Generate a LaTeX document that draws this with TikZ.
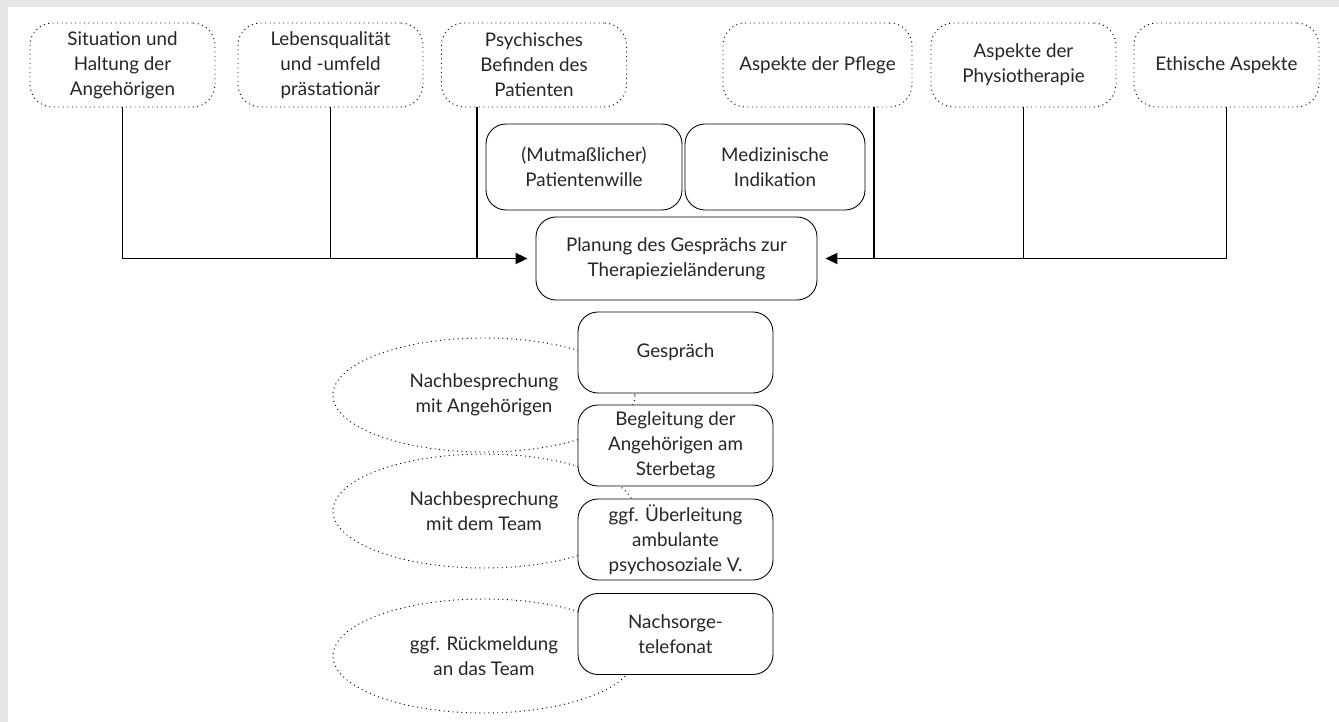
\documentclass[tikz,border=0pt]{standalone}
\usepackage{fontspec}
\setmainfont{Lato}
\usetikzlibrary{arrows.meta,positioning,calc,shapes.geometric}
\definecolor{framegray}{HTML}{E5E6E8}
\definecolor{ink}{HTML}{262626}

\begin{document}
\begin{tikzpicture}[
  every node/.style={font=\fontsize{10.7}{14.2}\selectfont,text=ink},
  factor/.style={draw,dotted,line width=0.55pt,rounded corners=0.45cm,align=center,
    minimum width=3.7cm,minimum height=1.68cm,inner sep=2pt},
  stage/.style={draw,fill=white,line width=0.5pt,rounded corners=0.4cm,align=center,
    minimum width=3.9cm,minimum height=1.62cm,inner sep=2pt},
  debrief/.style={draw,dotted,line width=0.55pt,ellipse,align=center,
    minimum width=6.04cm,minimum height=2.28cm,inner sep=0pt},
  link/.style={line width=1.1pt},
  tip/.style={-{Triangle[length=0.24cm,width=0.22cm]},shorten >=0.16cm}
  ]
  % frame
  \useasboundingbox (0,0) rectangle (26.78,-14.44);
  \fill[framegray] (0,0) rectangle (26.78,-14.44);
  \fill[white] (0.16,-0.14) rectangle (26.78,-14.44);
  \coordinate(j3) at (9.54,0);
  \coordinate(j4) at (17.48,0);
  % factors
  \node[factor] (s1) at (2.45,-1.30) {Situation und\\Haltung der\\Angehörigen};
  \node[factor] (s2) at (6.61,-1.30) {Lebensqualität\\und -umfeld\\prästationär};
  \node[factor] (s3) at (10.68,-1.30) {Psychisches\\Befinden des\\Patienten};
  \node[factor,minimum width=3.78cm] (s4) at (16.35,-1.30) {Aspekte der Pflege};
  \node[factor] (s5) at (20.47,-1.30) {Aspekte der\\Physiotherapie};
  \node[factor] (s6) at (24.53,-1.30) {Ethische Aspekte};
  \node[stage,minimum width=3.92cm,minimum height=1.72cm] (wille) at (11.68,-3.34)
    {(Mutmaßlicher)\\Patientenwille};
  \node[stage,minimum width=3.6cm,minimum height=1.72cm] (indik) at (15.50,-3.34)
    {Medizinische\\Indikation};
  \node[stage,minimum width=5.62cm,minimum height=1.66cm] (plan) at (13.53,-5.17)
    {Planung des Gesprächs zur\\Therapiezieländerung};
  % connectors
  \draw[link,tip] (s1.south) |- (plan.west);
  \draw[link] (s2.south) -- (s2.south |- plan.west);
  \draw[link] (j3 |- s3.south) -- (j3 |- plan.west);
  \draw[link,tip] (s6.south) |- (plan.east);
  \draw[link] (s5.south) -- (s5.south |- plan.east);
  \draw[link] (j4 |- s4.south) -- (j4 |- plan.east);
  % debriefings
  \node[debrief] (e1) at (9.68,-7.90) {Nachbesprechung\\mit Angehörigen};
  \node[debrief] (e2) at (9.68,-10.22) {Nachbesprechung\\mit dem Team};
  \node[debrief] (e3) at (9.68,-13.12) {ggf. Rückmeldung\\an das Team};
  % stages
  \node[stage] (talk) at (13.51,-7.05) {Gespräch};
  \node[stage] (escort) at (13.51,-8.91) {Begleitung der\\Angehörigen am\\Sterbetag};
  \node[stage] (transfer) at (13.51,-10.79) {ggf. Überleitung\\ambulante\\psychosoziale V.};
  \node[stage] (aftercare) at (13.51,-12.68) {Nachsorge-\\telefonat};
\end{tikzpicture}
\end{document}
